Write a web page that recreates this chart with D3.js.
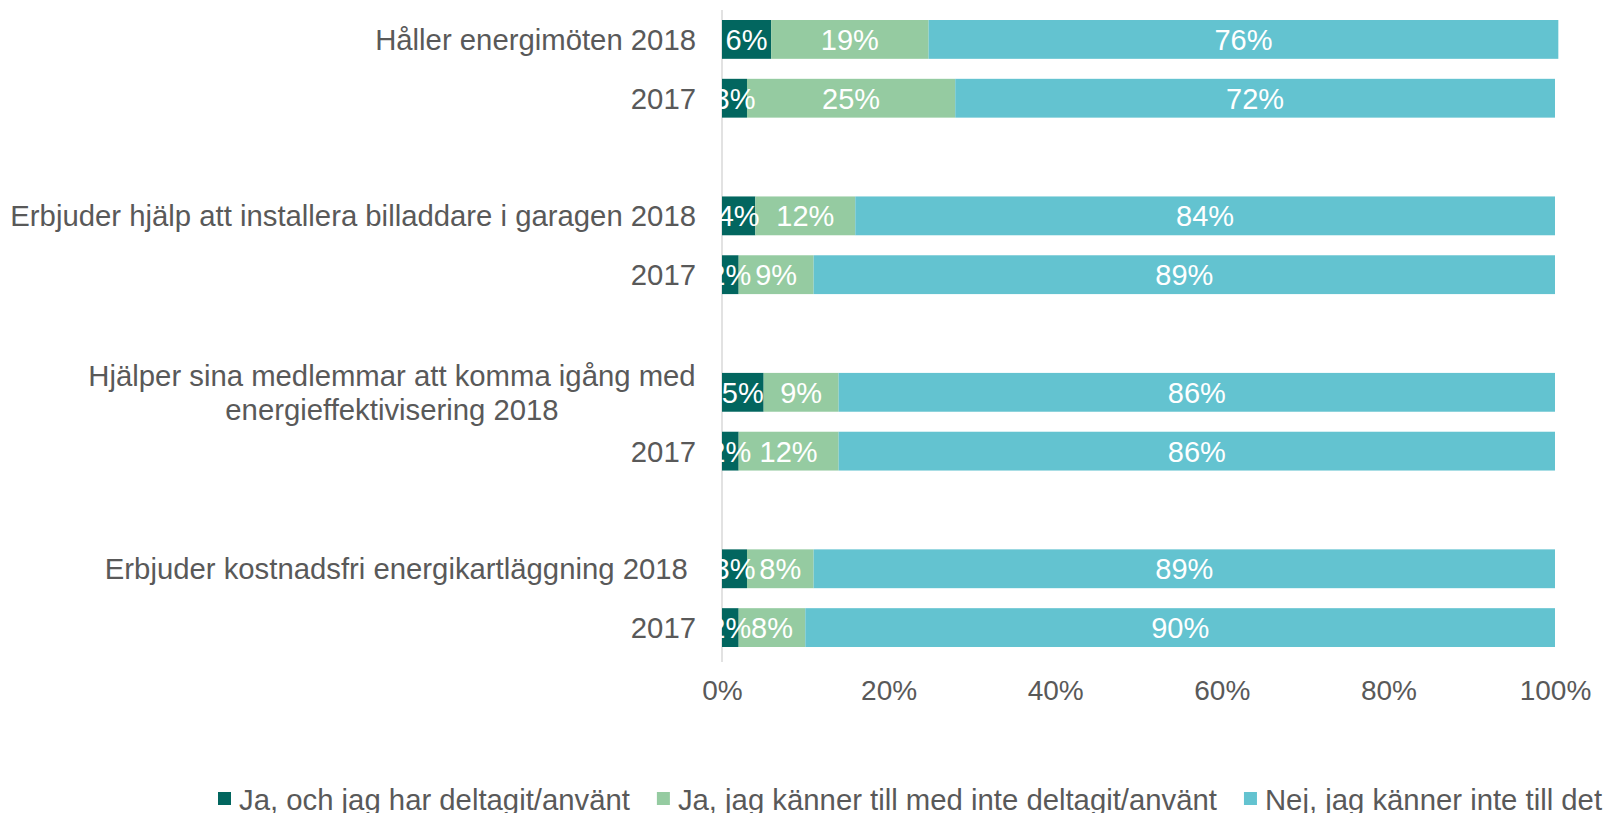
<!DOCTYPE html>
<html>
<head>
<meta charset="utf-8">
<script src="https://cdn.jsdelivr.net/npm/d3@7"></script>
<style>
  body { margin: 0; background: #fff; }
  svg { font-family: "Liberation Sans", Arial, sans-serif; }
</style>
</head>
<body>
<script>
// Chart frame
const width = 1606;
const height = 813;

// Row labels (empty strings are the spacer rows between question groups)
const categories = [
    ["Håller energimöten 2018"],
    ["2017"],
    [""],
    ["Erbjuder hjälp att installera billaddare i garagen 2018"],
    ["2017"],
    [""],
    ["Hjälper sina medlemmar att komma igång med", "energieffektivisering 2018"],
    ["2017"],
    [""],
    ["Erbjuder kostnadsfri energikartläggning 2018 "],
    ["2017"]
];

const seriesNames = [
    "Ja, och jag har deltagit/använt",
    "Ja, jag känner till med inte deltagit/använt",
    "Nej, jag känner inte till det"
];

// Percent values per row
const jaDeltagit = [5.9, 3, null, 4, 2, null, 5, 2, null, 3, 2];
const jaKanner   = [18.9, 25, null, 12, 9, null, 9, 12, null, 8, 8];
const nejKanner  = [75.6, 72, null, 84, 89, null, 86, 86, null, 89, 90];

const tickValues = [0, 20, 40, 60, 80, 100];

const colors = ["#02665f", "#95cba1", "#63c3d0"];
const textColor = "#595959";
const labelSize = "29.3px";

const svg = d3.select("body")
    .append("svg")
    .attr("width", width)
    .attr("height", height);

const x = d3.scaleLinear()
    .domain([0, 100])
    .range([722, 1555]);

const y = d3.scaleBand()
    .domain(d3.range(categories.length))
    .range([10, 657])
    .paddingInner(0.34)
    .paddingOuter(0.17);

// vertical axis line
svg.append("line")
    .attr("x1", x(0)).attr("x2", x(0))
    .attr("y1", 10).attr("y2", 662)
    .attr("stroke", "#d9d9d9")
    .attr("stroke-width", 1.5);

// stack the series
const rows = categories.map((c, i) => ({
    i: i,
    vals: [jaDeltagit[i], jaKanner[i], nejKanner[i]]
})).filter(d => d.vals[0] !== null);

const segs = [];
rows.forEach(r => {
    let acc = 0;
    r.vals.forEach((v, k) => {
        segs.push({ i: r.i, k: k, x0: acc, x1: acc + v, v: v });
        acc += v;
    });
});

svg.append("g")
    .selectAll("rect")
    .data(segs)
    .enter()
    .append("rect")
    .attr("x", d => x(d.x0))
    .attr("width", d => x(d.x1) - x(d.x0))
    .attr("y", d => y(d.i))
    .attr("height", y.bandwidth())
    .attr("fill", d => colors[d.k]);

// data labels
svg.append("g")
    .selectAll("text")
    .data(segs)
    .enter()
    .append("text")
    .attr("x", d => (x(d.x0) + x(d.x1)) / 2)
    .attr("y", d => y(d.i) + y.bandwidth() / 2)
    .attr("dy", "0.36em")
    .attr("text-anchor", "middle")
    .attr("fill", "#fff")
    .style("font-size", "29px")
    .text(d => Math.round(d.v) + "%");

// row labels
const labels = svg.append("g")
    .selectAll("text")
    .data(categories.map((c, i) => ({ lines: c, i: i })).filter(d => d.lines[0] !== ""))
    .enter()
    .append("text")
    .attr("fill", textColor)
    .style("font-size", labelSize)
    .style("white-space", "pre")
    .attr("y", d => y(d.i) + y.bandwidth() / 2);

labels.each(function(d) {
    const t = d3.select(this);
    if (d.lines.length === 1) {
        t.attr("x", 696).attr("text-anchor", "end")
            .append("tspan").attr("dy", "0.36em").text(d.lines[0]);
    } else {
        t.attr("text-anchor", "middle");
        d.lines.forEach((line, j) => {
            t.append("tspan")
                .attr("x", 392)
                .attr("dy", j === 0 ? (0.36 - 0.57) + "em" : "1.14em")
                .text(line);
        });
    }
});

// x axis tick labels
const xAxis = d3.axisBottom(x)
    .tickValues(tickValues)
    .tickSize(0)
    .tickPadding(0)
    .tickFormat(d => d + "%");

const gx = svg.append("g")
    .attr("transform", "translate(0,680)")
    .call(xAxis);
gx.select(".domain").remove();
gx.selectAll("text")
    .attr("fill", textColor)
    .style("font-size", "28px")
    .style("font-family", "'Liberation Sans', Arial, sans-serif");

// legend
const legend = svg.append("g").attr("transform", "translate(218,799)");
let lx = 0;
seriesNames.forEach((name, k) => {
    legend.append("rect")
        .attr("x", lx).attr("y", -7)
        .attr("width", 13).attr("height", 13)
        .attr("fill", colors[k]);
    const t = legend.append("text")
        .attr("x", lx + 21)
        .attr("dy", "0.36em")
        .attr("fill", textColor)
        .style("font-size", labelSize)
        .text(name);
    lx += 21 + t.node().getComputedTextLength() + 27;
});
</script>
</body>
</html>
